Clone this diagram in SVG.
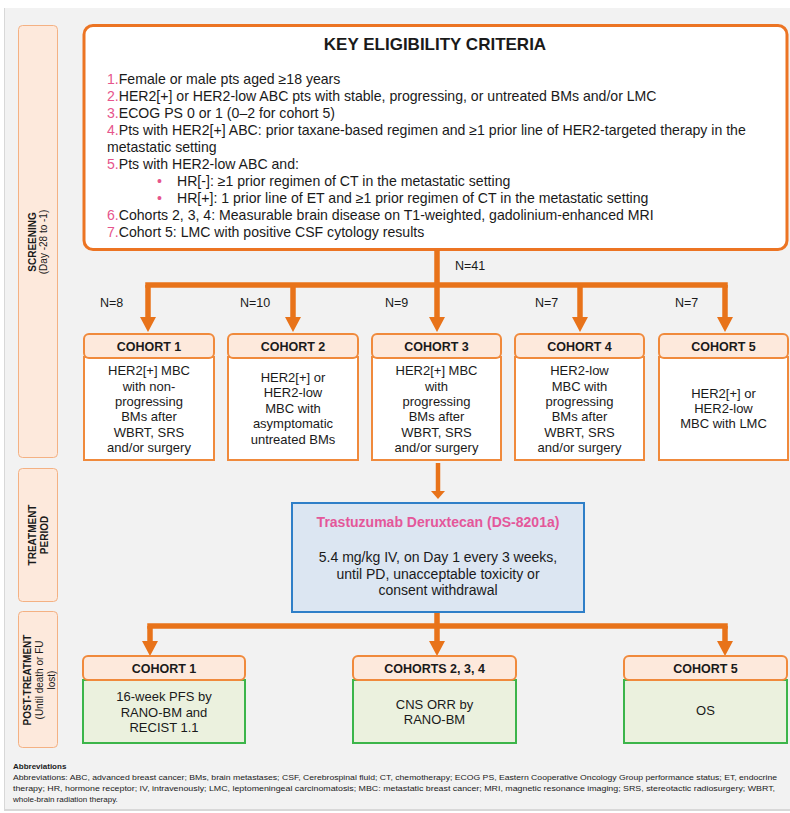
<svg xmlns="http://www.w3.org/2000/svg" width="790" height="813" viewBox="0 0 790 813">
<defs>
<style>
text{font-family:"Liberation Sans",Arial,sans-serif;fill:#1a1a1a}
.phase{fill:#fde9dc;stroke:#f4b183;stroke-width:1}
.pt{font-size:10px;font-weight:bold}
.ps{font-size:10px}
.key{fill:#fff;stroke:#ec7423;stroke-width:3}
.kt{font-size:17px;font-weight:bold}
.li{font-size:14.1px}
.num{fill:#e6558c}
.hdr{fill:#fde9dc;stroke:#f08a3c;stroke-width:2}
.bodyw{fill:#fff;stroke:#f08a3c;stroke-width:2}
.bodyg{fill:#ebf1de;stroke:#3cb54a;stroke-width:2}
.ht{font-size:12.5px;font-weight:bold;text-anchor:middle}
.bt{font-size:13px;text-anchor:middle}
.nl{font-size:12.5px}
.trt{fill:#dce6f2;stroke:#2f7fc8;stroke-width:2}
.tt{font-size:14px;font-weight:bold;fill:#e4579a;text-anchor:middle}
.tb{font-size:14px;text-anchor:middle}
.con{fill:none;stroke:#e8731a;stroke-width:5.5}
.thin{fill:none;stroke:#e8731a;stroke-width:4.5}
.ab{font-size:8px}
.abh{font-size:8px;font-weight:bold}
</style>
<marker id="ah" viewBox="0 0 15 16" refX="1" refY="8" markerWidth="15" markerHeight="16" markerUnits="userSpaceOnUse" orient="auto">
<path d="M0,0 L15,8 L0,16 Z" fill="#e8731a"/>
</marker>
<marker id="ahs" viewBox="0 0 8 14" refX="1" refY="7" markerWidth="8" markerHeight="14" markerUnits="userSpaceOnUse" orient="auto">
<path d="M0,0 L8,7 L0,14 Z" fill="#e8731a"/>
</marker>
</defs>

<rect x="0" y="0" width="790" height="813" fill="#fff"/>
<rect x="4" y="8" width="790" height="803" fill="#d8d8d8"/>
<rect x="5" y="8" width="790" height="801" fill="#f2f2f2"/>

<g id="phase-screening">
<rect class="phase" x="18.5" y="25.5" width="39" height="432" rx="4"/>
<text class="pt" text-anchor="middle" transform="translate(35.5,242) rotate(-90)">SCREENING</text>
<text class="ps" text-anchor="middle" transform="translate(47,242) rotate(-90)">(Day -28 to -1)</text>
</g>
<g id="phase-treatment">
<rect class="phase" x="18.5" y="468.5" width="39" height="133" rx="4"/>
<text class="pt" text-anchor="middle" transform="translate(35.5,535) rotate(-90)">TREATMENT</text>
<text class="pt" text-anchor="middle" transform="translate(47.5,535) rotate(-90)">PERIOD</text>
</g>
<g id="phase-post">
<rect class="phase" x="18.5" y="611.5" width="39" height="136" rx="4"/>
<text class="pt" text-anchor="middle" transform="translate(30.5,680) rotate(-90)">POST-TREATMENT</text>
<text class="ps" text-anchor="middle" transform="translate(42.5,680) rotate(-90)">(Until death or FU</text>
<text class="ps" text-anchor="middle" transform="translate(54.5,680) rotate(-90)">lost)</text>
</g>

<g id="key-criteria">
<rect class="key" x="84" y="25.5" width="703" height="224" rx="9"/>
<text class="kt" x="435" y="50" text-anchor="middle">KEY ELIGIBILITY CRITERIA</text>
<text class="li" x="107" y="84"><tspan class="num">1.</tspan>Female or male pts aged ≥18 years</text>
<text class="li" x="107" y="101"><tspan class="num">2.</tspan>HER2[+] or HER2-low ABC pts with stable, progressing, or untreated BMs and/or LMC</text>
<text class="li" x="107" y="118"><tspan class="num">3.</tspan>ECOG PS 0 or 1 (0–2 for cohort 5)</text>
<text class="li" x="107" y="135"><tspan class="num">4.</tspan>Pts with HER2[+] ABC: prior taxane-based regimen and ≥1 prior line of HER2-targeted therapy in the</text>
<text class="li" x="107" y="152">metastatic setting</text>
<text class="li" x="107" y="169"><tspan class="num">5.</tspan>Pts with HER2-low ABC and:</text>
<text class="li num" x="157" y="186">•</text>
<text class="li" x="177" y="186">HR[-]: ≥1 prior regimen of CT in the metastatic setting</text>
<text class="li num" x="157" y="203">•</text>
<text class="li" x="177" y="203">HR[+]: 1 prior line of ET and ≥1 prior regimen of CT in the metastatic setting</text>
<text class="li" x="107" y="220"><tspan class="num">6.</tspan>Cohorts 2, 3, 4: Measurable brain disease on T1-weighted, gadolinium-enhanced MRI</text>
<text class="li" x="107" y="237"><tspan class="num">7.</tspan>Cohort 5: LMC with positive CSF cytology results</text>
</g>

<g id="connectors">
<path class="con" d="M437,250 V285"/>
<path class="con" d="M148,285 H725" stroke-linecap="square"/>
<path class="con" d="M148,285 V318" marker-end="url(#ah)"/>
<path class="con" d="M293,285 V318" marker-end="url(#ah)"/>
<path class="con" d="M437,285 V318" marker-end="url(#ah)"/>
<path class="con" d="M580,285 V318" marker-end="url(#ah)"/>
<path class="con" d="M725,285 V318" marker-end="url(#ah)"/>
<path class="thin" d="M438,463 V492" marker-end="url(#ahs)"/>
<path class="con" d="M437,612 V626"/>
<path class="con" d="M150,626 H725" stroke-linecap="square"/>
<path class="con" d="M150,626 V642" marker-end="url(#ah)"/>
<path class="con" d="M437,626 V642" marker-end="url(#ah)"/>
<path class="con" d="M725,626 V642" marker-end="url(#ah)"/>
</g>

<g id="n-labels">
<text class="nl" x="455" y="270">N=41</text>
<text class="nl" x="100" y="307">N=8</text>
<text class="nl" x="240" y="307">N=10</text>
<text class="nl" x="385" y="307">N=9</text>
<text class="nl" x="535" y="307">N=7</text>
<text class="nl" x="675" y="307">N=7</text>
</g>

<g id="cohort1">
<rect class="bodyw" x="84" y="357" width="130" height="103"/>
<rect class="hdr" x="84" y="334" width="130" height="24" rx="5"/>
<text class="ht" x="149" y="351">COHORT 1</text>
<text class="bt" x="149" y="375">HER2[+] MBC</text>
<text class="bt" x="149" y="391">with non-</text>
<text class="bt" x="149" y="406">progressing</text>
<text class="bt" x="149" y="421">BMs after</text>
<text class="bt" x="149" y="437">WBRT, SRS</text>
<text class="bt" x="149" y="452">and/or surgery</text>
</g>
<g id="cohort2">
<rect class="bodyw" x="228" y="357" width="130" height="103"/>
<rect class="hdr" x="228" y="334" width="130" height="24" rx="5"/>
<text class="ht" x="293" y="351">COHORT 2</text>
<text class="bt" x="293" y="382">HER2[+] or</text>
<text class="bt" x="293" y="397">HER2-low</text>
<text class="bt" x="293" y="413">MBC with</text>
<text class="bt" x="293" y="428">asymptomatic</text>
<text class="bt" x="293" y="444">untreated BMs</text>
</g>
<g id="cohort3">
<rect class="bodyw" x="372" y="357" width="129" height="103"/>
<rect class="hdr" x="372" y="334" width="129" height="24" rx="5"/>
<text class="ht" x="436.5" y="351">COHORT 3</text>
<text class="bt" x="436.5" y="375">HER2[+] MBC</text>
<text class="bt" x="436.5" y="391">with</text>
<text class="bt" x="436.5" y="406">progressing</text>
<text class="bt" x="436.5" y="421">BMs after</text>
<text class="bt" x="436.5" y="437">WBRT, SRS</text>
<text class="bt" x="436.5" y="452">and/or surgery</text>
</g>
<g id="cohort4">
<rect class="bodyw" x="515" y="357" width="129" height="103"/>
<rect class="hdr" x="515" y="334" width="129" height="24" rx="5"/>
<text class="ht" x="579.5" y="351">COHORT 4</text>
<text class="bt" x="579.5" y="375">HER2-low</text>
<text class="bt" x="579.5" y="391">MBC with</text>
<text class="bt" x="579.5" y="406">progressing</text>
<text class="bt" x="579.5" y="421">BMs after</text>
<text class="bt" x="579.5" y="437">WBRT, SRS</text>
<text class="bt" x="579.5" y="452">and/or surgery</text>
</g>
<g id="cohort5">
<rect class="bodyw" x="659" y="357" width="129" height="103"/>
<rect class="hdr" x="659" y="334" width="129" height="24" rx="5"/>
<text class="ht" x="723.5" y="351">COHORT 5</text>
<text class="bt" x="723.5" y="398">HER2[+] or</text>
<text class="bt" x="723.5" y="413">HER2-low</text>
<text class="bt" x="723.5" y="428">MBC with LMC</text>
</g>

<g id="treatment">
<rect class="trt" x="292" y="503" width="292" height="109"/>
<text class="tt" x="438" y="527">Trastuzumab Deruxtecan (DS-8201a)</text>
<text class="tb" x="438" y="562">5.4 mg/kg IV, on Day 1 every 3 weeks,</text>
<text class="tb" x="438" y="579">until PD, unacceptable toxicity or</text>
<text class="tb" x="438" y="595">consent withdrawal</text>
</g>

<g id="post-cohort1">
<rect class="bodyg" x="83" y="680" width="162" height="63"/>
<rect class="hdr" x="83" y="656" width="162" height="24" rx="5"/>
<text class="ht" x="164" y="673">COHORT 1</text>
<text class="bt" x="164" y="701">16-week PFS by</text>
<text class="bt" x="164" y="717">RANO-BM and</text>
<text class="bt" x="164" y="732">RECIST 1.1</text>
</g>
<g id="post-cohorts234">
<rect class="bodyg" x="353" y="680" width="163" height="63"/>
<rect class="hdr" x="353" y="656" width="163" height="24" rx="5"/>
<text class="ht" x="434.5" y="673">COHORTS 2, 3, 4</text>
<text class="bt" x="434.5" y="709">CNS ORR by</text>
<text class="bt" x="434.5" y="724">RANO-BM</text>
</g>
<g id="post-cohort5">
<rect class="bodyg" x="624" y="680" width="163" height="63"/>
<rect class="hdr" x="624" y="656" width="163" height="24" rx="5"/>
<text class="ht" x="705.5" y="673">COHORT 5</text>
<text class="bt" x="705.5" y="715">OS</text>
</g>

<g id="abbreviations">
<text class="abh" x="13" y="769">Abbreviations</text>
<text class="ab" x="13" y="780" textLength="764" lengthAdjust="spacingAndGlyphs">Abbreviations: ABC, advanced breast cancer; BMs, brain metastases; CSF, Cerebrospinal fluid; CT, chemotherapy; ECOG PS, Eastern Cooperative Oncology Group performance status; ET, endocrine</text>
<text class="ab" x="13" y="791" textLength="762" lengthAdjust="spacingAndGlyphs">therapy; HR, hormone receptor; IV, intravenously; LMC, leptomeningeal carcinomatosis; MBC: metastatic breast cancer;  MRI, magnetic resonance imaging; SRS, stereotactic radiosurgery; WBRT,</text>
<text class="ab" x="13" y="802">whole-brain radiation therapy.</text>
</g>
</svg>
